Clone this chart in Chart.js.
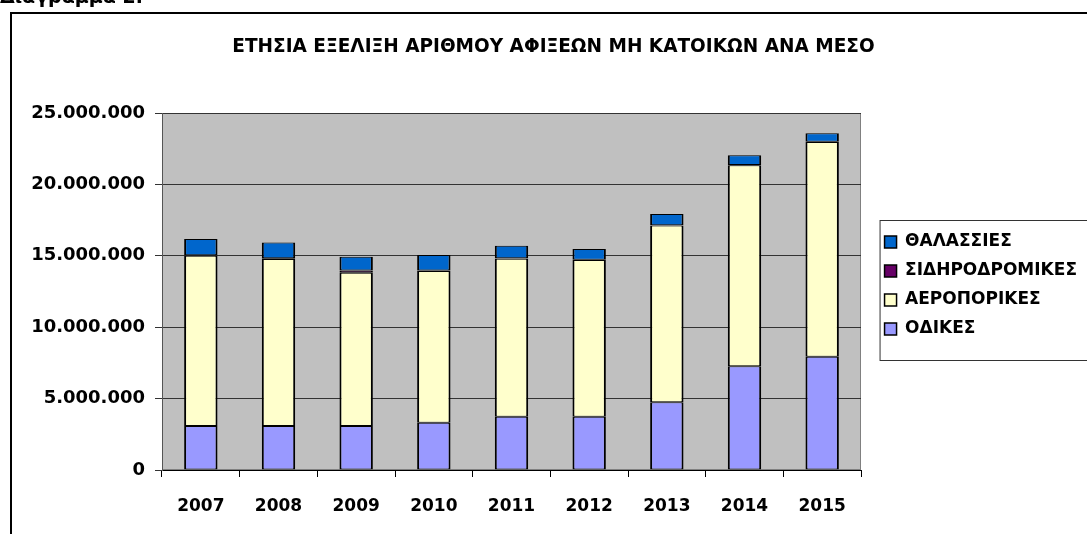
<!DOCTYPE html>
<html lang="el">
<head>
<meta charset="utf-8">
<title>Διάγραμμα 2</title>
<script src="https://cdn.jsdelivr.net/npm/chart.js@4.4.1/dist/chart.umd.min.js"></script>
<style>
  html, body { margin: 0; padding: 0; background: #fff; overflow: hidden; }
  #wrap { position: relative; width: 1087px; height: 534px; overflow: hidden; }
  #chart { position: absolute; left: 0; top: 0; }
  #caption {
    position: absolute; left: 0; top: -12px;
    font: bold 19px/17px 'DejaVu Sans', sans-serif; color: #000; white-space: nowrap;
  }
</style>
</head>
<body>
<div id="wrap">
  <canvas id="chart" width="1087" height="571"></canvas>
  <div id="caption">Διάγραμμα 2:</div>
</div>
<script>
const YEARS = ['2007', '2008', '2009', '2010', '2011', '2012', '2013', '2014', '2015'];
const ROAD = [3080000, 3080000, 3080000, 3310000, 3730000, 3730000, 4740000, 7260000, 7930000];
const AIR = [11920000, 11700000, 10740000, 10630000, 11070000, 10980000, 12390000, 14080000, 15040000];
const RAIL = [40000, 50000, 150000, 30000, 20000, 10000, 10000, 10000, 10000];
const SEA = [1140000, 1110000, 970000, 1090000, 890000, 760000, 790000, 690000, 600000];
const Y_TICKS = [0, 5000000, 10000000, 15000000, 20000000, 25000000];

const TITLE = 'ΕΤΗΣΙΑ ΕΞΕΛΙΞΗ ΑΡΙΘΜΟΥ ΑΦΙΞΕΩΝ ΜΗ ΚΑΤΟΙΚΩΝ ΑΝΑ ΜΕΣΟ';

// layout targets (px)
const PLOT_LEFT = 162;
const PLOT_RIGHT = 861;
const PAD_LEFT = 20;
const X_AXIS_HEIGHT = 101;

Chart.defaults.font.family = "'DejaVu Sans', sans-serif";
Chart.defaults.font.weight = 'bold';
Chart.defaults.color = '#000';

function dotted(value) {
  return String(value).replace(/\B(?=(\d{3})+(?!\d))/g, '.');
}

const framePlugin = {
  id: 'frame',
  beforeDraw(chart) {
    const { ctx, chartArea } = chart;
    ctx.save();
    ctx.fillStyle = '#fff';
    ctx.fillRect(0, 0, chart.width, chart.height);
    ctx.strokeStyle = '#000';
    ctx.lineWidth = 2;
    ctx.beginPath();
    ctx.moveTo(11, chart.height + 5);
    ctx.lineTo(11, 13);
    ctx.lineTo(chart.width + 5, 13);
    ctx.stroke();
    ctx.fillStyle = '#c0c0c0';
    ctx.fillRect(chartArea.left, chartArea.top, chartArea.width, chartArea.height);
    ctx.strokeStyle = '#808080';
    ctx.lineWidth = 1;
    ctx.strokeRect(chartArea.left + 0.5, chartArea.top + 0.5, chartArea.width - 1, chartArea.height - 1);
    ctx.restore();
  },
  afterDraw(chart) {
    const legend = chart.legend;
    const boxes = legend.legendHitBoxes;
    if (!boxes || !boxes.length) {
      return;
    }
    const first = boxes[0];
    const last = boxes[boxes.length - 1];
    const top = first.top - 13.5;
    const bottom = last.top + last.height + 22.5;
    const { ctx } = chart;
    ctx.save();
    ctx.strokeStyle = '#333';
    ctx.lineWidth = 1;
    ctx.strokeRect(legend.left + 7.5, Math.round(top) + 0.5, chart.width, Math.round(bottom - top));
    ctx.restore();
  }
};

function makeDataset(label, data, color) {
  return {
    label,
    data,
    backgroundColor: color,
    borderColor: '#000',
    borderWidth: { top: 1, bottom: 1, left: 2, right: 2 },
    borderSkipped: false,
    barPercentage: 0.43,
    categoryPercentage: 1
  };
}

new Chart(document.getElementById('chart'), {
  type: 'bar',
  data: {
    labels: YEARS,
    datasets: [
      makeDataset('ΟΔΙΚΕΣ', ROAD, '#9999ff'),
      makeDataset('ΑΕΡΟΠΟΡΙΚΕΣ', AIR, '#ffffcc'),
      makeDataset('ΣΙΔΗΡΟΔΡΟΜΙΚΕΣ', RAIL, '#660066'),
      makeDataset('ΘΑΛΑΣΣΙΕΣ', SEA, '#0066cc')
    ]
  },
  options: {
    responsive: false,
    animation: false,
    devicePixelRatio: 1,
    layout: { padding: { left: PAD_LEFT, right: 0, top: 0, bottom: 0 } },
    plugins: {
      title: {
        display: true,
        text: TITLE,
        color: '#000',
        font: { size: 18.5, weight: 'bold' },
        padding: { top: 36, bottom: 54.8 }
      },
      legend: {
        position: 'right',
        reverse: true,
        maxWidth: 216,
        labels: {
          boxWidth: 12,
          boxHeight: 12,
          padding: 12,
          color: '#000',
          font: { size: 17, weight: 'bold' }
        }
      },
      tooltip: { enabled: false }
    },
    scales: {
      x: {
        stacked: true,
        offset: true,
        grid: {
          offset: true,
          drawOnChartArea: false,
          drawTicks: true,
          tickLength: 7,
          color: '#000'
        },
        border: { color: '#000', width: 1 },
        ticks: { color: '#000', padding: 19, font: { size: 17, weight: 'bold' } },
        afterFit(scale) {
          scale.height = X_AXIS_HEIGHT;
        }
      },
      y: {
        stacked: true,
        min: Y_TICKS[0],
        max: Y_TICKS[Y_TICKS.length - 1],
        afterBuildTicks(scale) {
          scale.ticks = Y_TICKS.map((value) => ({ value }));
        },
        grid: { color: '#333', lineWidth: 1, drawTicks: true, tickLength: 7 },
        border: { color: '#555', width: 1 },
        ticks: {
          color: '#000',
          padding: 10,
          font: { size: 18, weight: 'bold' },
          callback: (value) => dotted(value)
        },
        afterFit(scale) {
          scale.width = PLOT_LEFT - PAD_LEFT;
        }
      },
      gap: {
        type: 'linear',
        position: 'right',
        display: true,
        grid: { display: false },
        border: { display: false },
        ticks: { display: false },
        afterFit(scale) {
          scale.width = Math.max(0, scale.chart.width - scale.chart.legend.width - PLOT_RIGHT);
        }
      }
    }
  },
  plugins: [framePlugin]
});
</script>
</body>
</html>
